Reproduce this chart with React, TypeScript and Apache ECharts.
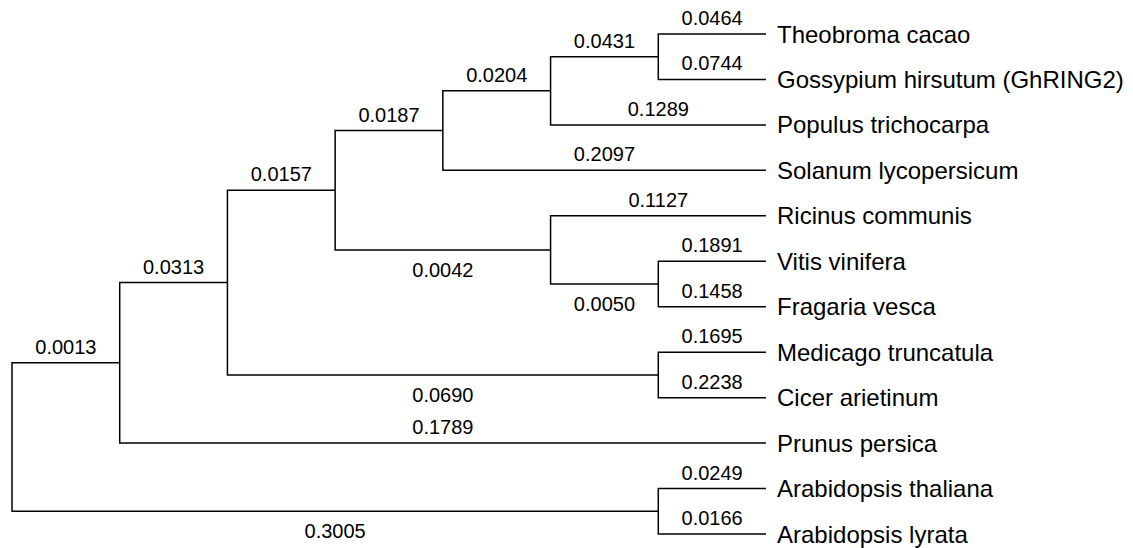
import React, { useEffect, useRef } from "react";
import * as echarts from "echarts";

// Leaves (top to bottom) and their terminal branch lengths
const leafNames: string[] = [
  "Theobroma cacao",
  "Gossypium hirsutum (GhRING2)",
  "Populus trichocarpa",
  "Solanum lycopersicum",
  "Ricinus communis",
  "Vitis vinifera",
  "Fragaria vesca",
  "Medicago truncatula",
  "Cicer arietinum",
  "Prunus persica",
  "Arabidopsis thaliana",
  "Arabidopsis lyrata",
];
const leafLengths: number[] = [
  0.0464, 0.0744, 0.1289, 0.2097, 0.1127, 0.1891, 0.1458, 0.1695, 0.2238, 0.1789, 0.0249, 0.0166,
];

// Internal clades: id, children (upper first), branch length leading to the clade
const cladeIds: string[] = ["F", "E", "D", "V", "R", "C", "M", "B", "A", "T", "root"];
const cladeChildren: string[][] = [
  ["L0", "L1"],
  ["F", "L2"],
  ["E", "L3"],
  ["L5", "L6"],
  ["L4", "V"],
  ["D", "R"],
  ["L7", "L8"],
  ["C", "M"],
  ["B", "L9"],
  ["L10", "L11"],
  ["A", "T"],
];
const cladeLengths: (number | null)[] = [
  0.0431, 0.0204, 0.0187, 0.005, 0.0042, 0.0157, 0.069, 0.0313, 0.0013, 0.3005, null,
];

type Edge = {
  px: number;
  py: number;
  cx: number;
  cy: number;
  len: string;
  below: boolean;
  leaf: string | null;
};

function buildEdges() {
  const childrenOf: Record<string, string[]> = {};
  const lenOf: Record<string, number | null> = {};
  cladeIds.forEach((id, i) => {
    childrenOf[id] = cladeChildren[i];
    lenOf[id] = cladeLengths[i];
  });
  leafNames.forEach((_, i) => {
    lenOf["L" + i] = leafLengths[i];
  });
  const isLeaf = (id: string) => id.startsWith("L");
  const hCache: Record<string, number> = {};
  const height = (id: string): number => {
    if (isLeaf(id)) return 0;
    if (hCache[id] !== undefined) return hCache[id];
    const h = 1 + Math.max(...childrenOf[id].map(height));
    hCache[id] = h;
    return h;
  };
  const yOf = (id: string): number => {
    if (isLeaf(id)) return parseInt(id.slice(1), 10);
    const ys = childrenOf[id].map(yOf);
    return ys.reduce((a, b) => a + b, 0) / ys.length;
  };
  const H = height("root");
  const xOf = (id: string) => H - height(id);
  const edges: Edge[] = [];
  cladeIds.forEach((id) => {
    childrenOf[id].forEach((c, k) => {
      const leaf = isLeaf(c);
      edges.push({
        px: xOf(id),
        py: yOf(id),
        cx: xOf(c),
        cy: yOf(c),
        len: (lenOf[c] as number).toFixed(4),
        below: !leaf && k > 0,
        leaf: leaf ? leafNames[parseInt(c.slice(1), 10)] : null,
      });
    });
  });
  return { edges, H };
}

const FONT = "'Liberation Sans', Arial, Helvetica, sans-serif";

export default function App() {
  const ref = useRef<HTMLDivElement>(null);
  useEffect(() => {
    if (!ref.current) return;
    const chart = echarts.init(ref.current, undefined, { renderer: "svg" });
    const { edges, H } = buildEdges();
    chart.setOption({
      animation: false,
      backgroundColor: "#ffffff",
      grid: { left: 12, right: 367, top: 34, bottom: 14 },
      xAxis: { type: "value", min: 0, max: H, show: false },
      yAxis: { type: "value", min: 0, max: leafNames.length - 1, inverse: true, show: false },
      series: [
        {
          type: "custom",
          coordinateSystem: "cartesian2d",
          encode: { x: [0, 2], y: [1, 3] },
          data: edges.map((e) => [e.px, e.py, e.cx, e.cy]),
          renderItem: (params: any, api: any) => {
            const e = edges[params.dataIndex];
            const p1 = api.coord([api.value(0), api.value(1)]);
            const p2 = api.coord([api.value(0), api.value(3)]);
            const p3 = api.coord([api.value(2), api.value(3)]);
            const children: any[] = [
              {
                type: "polyline",
                shape: { points: [p1, p2, p3] },
                style: { stroke: "#000", lineWidth: 1.5, fill: "none", lineJoin: "miter" },
              },
              {
                type: "text",
                x: (p2[0] + p3[0]) / 2,
                y: e.below ? p3[1] + 20 : p3[1] - 16,
                style: {
                  text: e.len,
                  fontSize: 20,
                  fontFamily: FONT,
                  fill: "#000",
                  align: "center",
                  verticalAlign: "middle",
                },
              },
            ];
            if (e.leaf) {
              children.push({
                type: "text",
                x: p3[0] + 11,
                y: p3[1],
                style: {
                  text: e.leaf,
                  fontSize: 24,
                  fontFamily: FONT,
                  fill: "#000",
                  align: "left",
                  verticalAlign: "middle",
                },
              });
            }
            return { type: "group", children };
          },
        },
      ],
    });
    return () => chart.dispose();
  }, []);
  return (
    <div
      ref={ref}
      style={{ position: "fixed", left: 0, top: 0, width: 1133, height: 548, background: "#fff" }}
    />
  );
}
